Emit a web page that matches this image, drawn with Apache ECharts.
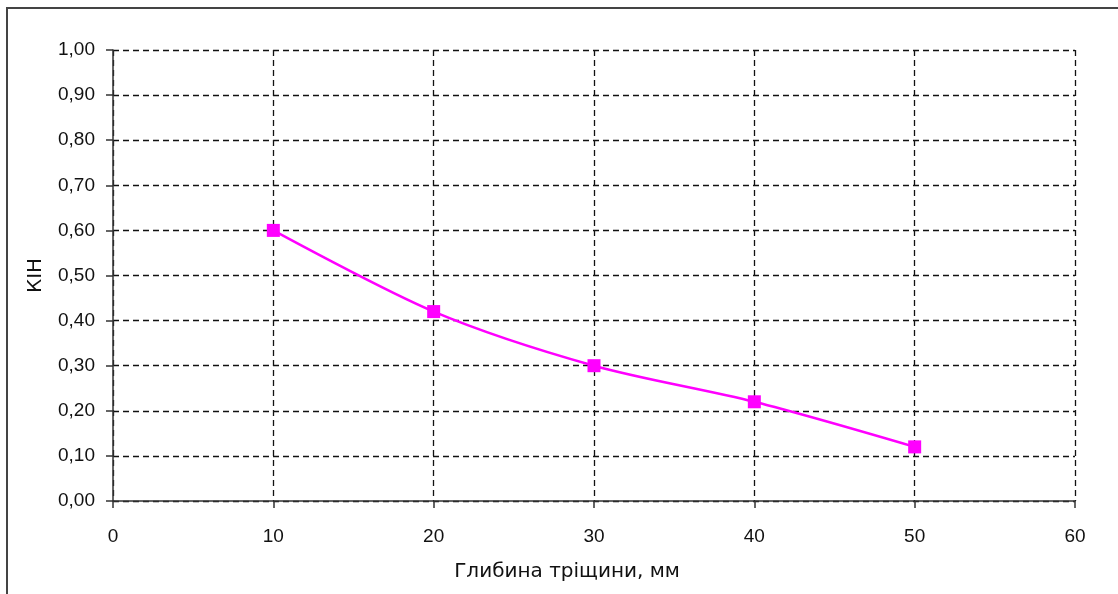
<!DOCTYPE html>
<html>
<head>
<meta charset="utf-8">
<script src="https://cdn.jsdelivr.net/npm/echarts@6/dist/echarts.min.js"></script>
<style>
  html, body { margin: 0; padding: 0; background: #fff; }
  #frame { position: absolute; left: 6px; top: 7px; width: 1120px; height: 600px;
           border-left: 2px solid #444; border-top: 2px solid #444; box-sizing: border-box; }
  #chart { position: absolute; left: 0; top: 0; width: 1118px; height: 594px; }
</style>
</head>
<body>
<div id="frame"></div>
<div id="chart"></div>
<script>
// Crack depth (mm) and the corresponding КІН values
const depths = [10, 20, 30, 40, 50];
const kinValues = [0.60, 0.42, 0.30, 0.22, 0.12];

const xAxisName = 'Глибина тріщини, мм';
const yAxisName = 'КІН';

const chart = echarts.init(document.getElementById('chart'), null, { renderer: 'canvas' });

const labelFont = { fontFamily: 'Liberation Sans, Arial, sans-serif', fontSize: 19, color: '#111' };
const titleFont = { fontFamily: 'DejaVu Sans, sans-serif', fontSize: 20, color: '#111' };
const dashed = { show: true, lineStyle: { color: '#111', width: 1.3, type: [6, 4] } };

chart.setOption({
  animation: false,
  grid: { left: 113, right: 43, top: 50, bottom: 93 },
  xAxis: {
    type: 'value', min: 0, max: 60, interval: 10,
    name: xAxisName, nameLocation: 'middle', nameGap: 61,
    // title sits a little left of the axis centre
    nameTextStyle: Object.assign({ padding: [0, 54, 0, 0] }, titleFont),
    axisLine: { show: true, onZero: false, lineStyle: { color: '#333', width: 1.5 } },
    axisTick: { show: true, length: 7, lineStyle: { color: '#333', width: 1.5 } },
    axisLabel: Object.assign({ margin: 26 }, labelFont),
    splitLine: dashed
  },
  yAxis: {
    type: 'value', min: 0, max: 1, interval: 0.1,
    name: yAxisName, nameLocation: 'middle', nameGap: 67, nameRotate: 90,
    nameTextStyle: titleFont,
    axisLine: { show: true, lineStyle: { color: '#333', width: 1.5 } },
    axisTick: { show: true, length: 7, lineStyle: { color: '#333', width: 1.5 } },
    axisLabel: Object.assign({
      margin: 18,
      formatter: v => v.toFixed(2).replace('.', ',')
    }, labelFont),
    splitLine: dashed
  },
  series: [{
    type: 'line',
    data: depths.map((d, i) => [d, kinValues[i]]),
    smooth: 0.3,
    symbol: 'rect',
    symbolSize: 13,
    itemStyle: { color: '#ff00ff' },
    lineStyle: { color: '#ff00ff', width: 2.5 }
  }]
});
</script>
</body>
</html>
